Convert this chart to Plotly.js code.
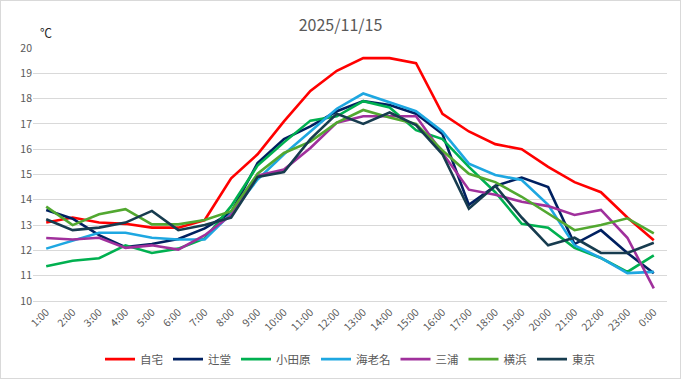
<!DOCTYPE html>
<html>
<head>
<meta charset="utf-8">
<script src="https://cdn.plot.ly/plotly-3.0.1.min.js"></script>
<style>
html,body{margin:0;padding:0;background:#fff;}
#wrap{width:681px;height:379px;box-sizing:border-box;border:1px solid #d9d9d9;}
#chart{width:679px;height:377px;}
</style>
</head>
<body>
<div id="wrap"><div id="chart"></div></div>
<script>
const hours = ["1:00","2:00","3:00","4:00","5:00","6:00","7:00","8:00","9:00","10:00","11:00","12:00","13:00","14:00","15:00","16:00","17:00","18:00","19:00","20:00","21:00","22:00","23:00","0:00"];
const seriesNames = ["自宅","辻堂","小田原","海老名","三浦","横浜","東京"];
const jitaku   = [13.1,13.3,13.1,13.05,12.9,12.9,13.2,14.85,15.8,17.1,18.3,19.1,19.6,19.6,19.4,17.4,16.7,16.2,16.0,15.3,14.7,14.3,13.3,12.4];
const tsujido  = [13.6,13.25,12.6,12.13,12.25,12.45,12.87,13.5,15.45,16.4,16.9,17.5,17.9,17.75,17.4,16.6,13.8,14.55,14.88,14.5,12.25,12.8,11.9,11.1];
const odawara  = [11.37,11.59,11.69,12.2,11.9,12.07,12.47,13.75,15.35,16.27,17.13,17.3,17.9,17.65,16.75,16.4,15.3,14.3,13.05,12.9,12.1,11.7,11.15,11.8];
const ebina    = [12.07,12.4,12.7,12.7,12.5,12.43,12.43,13.45,14.8,15.8,16.7,17.6,18.2,17.85,17.5,16.7,15.43,14.98,14.78,13.8,12.2,11.7,11.1,11.15];
const miura    = [12.49,12.43,12.5,12.1,12.2,12.03,12.6,13.4,14.95,15.2,16.05,17.05,17.3,17.3,17.3,15.85,14.4,14.2,13.92,13.75,13.4,13.6,12.5,10.5];
const yokohama = [13.73,13.0,13.43,13.63,13.03,13.03,13.2,13.55,15.03,15.85,16.3,17.05,17.55,17.25,17.0,15.95,15.03,14.7,14.12,13.45,12.8,13.0,13.27,12.67];
const tokyo    = [13.23,12.8,12.9,13.1,13.56,12.8,13.0,13.3,14.9,15.1,16.4,17.4,17.0,17.45,16.95,15.8,13.65,14.55,13.3,12.2,12.5,11.9,11.9,12.3];
const yTicks = [10,11,12,13,14,15,16,17,18,19,20];

const values = [jitaku,tsujido,odawara,ebina,miura,yokohama,tokyo];
const colors = ["#ff0000","#002060","#00b050","#1ea7e1","#a0309c","#52a830","#173c4f"];

const traces = values.map((v,i)=>({
  type:"scatter", mode:"lines", name:seriesNames[i],
  x:hours, y:v,
  line:{color:colors[i], width:2.6},
  hoverinfo:"skip"
}));

const font = "'Noto Sans CJK JP', 'Noto Sans', sans-serif";
const layout = {
  width:679, height:377,
  margin:{l:32, r:13, t:47, b:77, autoexpand:false},
  paper_bgcolor:"#fff", plot_bgcolor:"#fff",
  showlegend:true,
  title:{text:"2025/11/15", x:0.5, xanchor:"center", yref:"container", y:0.935, yanchor:"middle",
         font:{family:font, size:16, color:"#595959"}},
  xaxis:{type:"category", categoryorder:"array", categoryarray:hours,
         range:[-0.5, 23.5], automargin:false,
         tickangle:-45, tickfont:{family:font, size:10.5, color:"#595959"},
         showgrid:false, showline:true, linecolor:"#d9d9d9", ticks:"",
         fixedrange:true},
  yaxis:{range:[10,20], tickvals:yTicks, ticktext:yTicks.map(String), automargin:false,
         tickfont:{family:font, size:10.5, color:"#595959"},
         showgrid:true, gridcolor:"#d9d9d9", gridwidth:1, zeroline:false,
         showline:false, ticks:"", fixedrange:true},
  legend:{orientation:"h", x:0.5, xanchor:"center", yref:"container", y:0.05, yanchor:"middle",
          font:{family:font, size:11.5, color:"#595959"}, itemwidth:30,
          traceorder:"normal"},
  annotations:[{text:"℃", xref:"paper", yref:"paper", x:0.0, y:1.06,
                xanchor:"left", yanchor:"middle", showarrow:false,
                xshift:5, font:{family:font, size:12, color:"#262626"}}]
};
Plotly.newPlot("chart", traces, layout, {displayModeBar:false, staticPlot:true});
</script>
</body>
</html>
